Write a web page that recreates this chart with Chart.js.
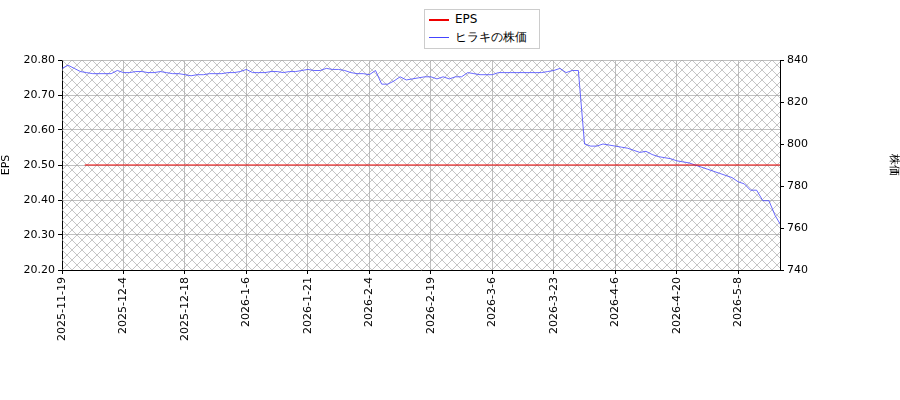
<!DOCTYPE html>
<html><head><meta charset="utf-8">
<script src="https://cdn.jsdelivr.net/npm/chart.js@4"></script>
<style>
body{margin:0;background:#fff;font-family:"DejaVu Sans",sans-serif}
#wrap{position:relative;width:900px;height:400px}
#leg{position:absolute;left:424px;top:9px;width:114px;height:38px;border:1px solid #ccc;background:#fff;font-size:12px;z-index:2}
#leg div{height:18px;line-height:18px;padding-left:4px}
#leg span{display:inline-block;width:20px;height:0;border-top:2px solid;vertical-align:middle;margin-right:6px}
</style></head><body>
<div id="wrap"><div id="leg"><div><span style="border-color:#e00"></span>EPS</div><div><span style="border-color:#44f;border-top-width:1px"></span>ヒラキの株価</div></div>
<canvas id="c" width="900" height="400"></canvas></div>
<script>
const tickIdx = [0, 10, 20, 30, 40, 50, 60, 70, 80, 90, 100, 110];
const tickLabels = ['2025-11-19','2025-12-4','2025-12-18','2026-1-6','2026-1-21','2026-2-4','2026-2-19','2026-3-6','2026-3-23','2026-4-6','2026-4-20','2026-5-8'];
const price = [
  836,837.5,836,834.5,834,833.5,833.5,833.5,833.5,835,
  834,834,834.5,834.5,834,834,834.5,834,833.5,833.5,
  833,832.5,833,833,833.5,833.5,833.5,834,834,834.5,
  835.5,834,834,834,834.5,834.5,834,834.5,834.5,835,
  835.5,835,835,836,835.5,835.5,835,834,833.5,833.5,
  833,835,828.5,828.5,830,832,830.5,831,831.5,832,
  832,831,832,831,832,832,834,833.5,833,833,
  833,834,834,834,834,834,834,834,834,834.5,
  835,836,834,835,835,800,799,799,800,799.5,
  799,798.5,798,797,796,796.5,795,794,793.5,793,
  792,791.5,791,790,789,788,787,786,785,784,
  782,781,778,778,773,773,766,761
];
const epsX = [3.7, 117];
const epsY = [20.5, 20.5];

const hatch = {
  id: 'hatch',
  beforeDatasetsDraw(chart) {
    const {ctx, chartArea: a} = chart;
    ctx.save();
    ctx.beginPath(); ctx.rect(a.left, a.top, a.right - a.left, a.bottom - a.top); ctx.clip();
    ctx.strokeStyle = '#a0a0a0'; ctx.lineWidth = 0.6;
    ctx.beginPath();
    const h = a.bottom - a.top, s = 10;
    for (let x = a.left - h; x < a.right + h; x += s) {
      ctx.moveTo(x, a.bottom); ctx.lineTo(x + h, a.top);
      ctx.moveTo(x, a.top); ctx.lineTo(x + h, a.bottom);
    }
    ctx.stroke();
    ctx.restore();
  }
};

Chart.defaults.font.family = '"DejaVu Sans", sans-serif';
Chart.defaults.font.size = 11;
Chart.defaults.color = '#000';

new Chart(document.getElementById('c'), {
  type: 'line',
  data: {
    datasets: [
      { label: 'EPS', data: epsX.map((x, i) => ({x, y: epsY[i]})), borderColor: '#e00', borderWidth: 1, pointRadius: 0, yAxisID: 'y' },
      { label: 'ヒラキの株価', data: price.map((y, i) => ({x: i, y})), borderColor: '#44f', borderWidth: 0.8, pointRadius: 0, yAxisID: 'y2' }
    ]
  },
  options: {
    responsive: false, animation: false,
    layout: { padding: { top: 60, left: 0, right: 0, bottom: 0 } },
    plugins: { legend: { display: false }, tooltip: { enabled: false } },
    scales: {
      x: {
        type: 'linear', min: 0, max: 116.8,
        afterBuildTicks: s => { s.ticks = tickIdx.map(v => ({value: v})); },
        afterFit: s => { s.height = 130; },
        ticks: { autoSkip: false, maxRotation: 90, minRotation: 90, callback: (v) => tickLabels[tickIdx.indexOf(v)] },
        grid: { color: '#c0c0c0', tickColor: '#000', tickLength: 4 },
        border: { color: '#000' }
      },
      y: {
        position: 'left', min: 20.2, max: 20.8,
        afterBuildTicks: s => { s.ticks = [20.2,20.3,20.4,20.5,20.6,20.7,20.8].map(v => ({value: v})); },
        afterFit: s => { s.width = 62; },
        ticks: { callback: v => v.toFixed(2) },
        title: { display: true, text: 'EPS', padding: 0 },
        grid: { color: '#c0c0c0', tickColor: '#000', tickLength: 4 },
        border: { color: '#000' }
      },
      y2: {
        position: 'right', min: 740, max: 840,
        afterBuildTicks: s => { s.ticks = [740,760,780,800,820,840].map(v => ({value: v})); },
        afterFit: s => { s.width = 120; },
        title: { display: true, text: '株価', padding: { top: 0, bottom: 40 } },
        grid: { drawOnChartArea: false, tickColor: '#000', tickLength: 4 },
        border: { color: '#000' }
      }
    }
  },
  plugins: [hatch]
});
</script></body></html>
